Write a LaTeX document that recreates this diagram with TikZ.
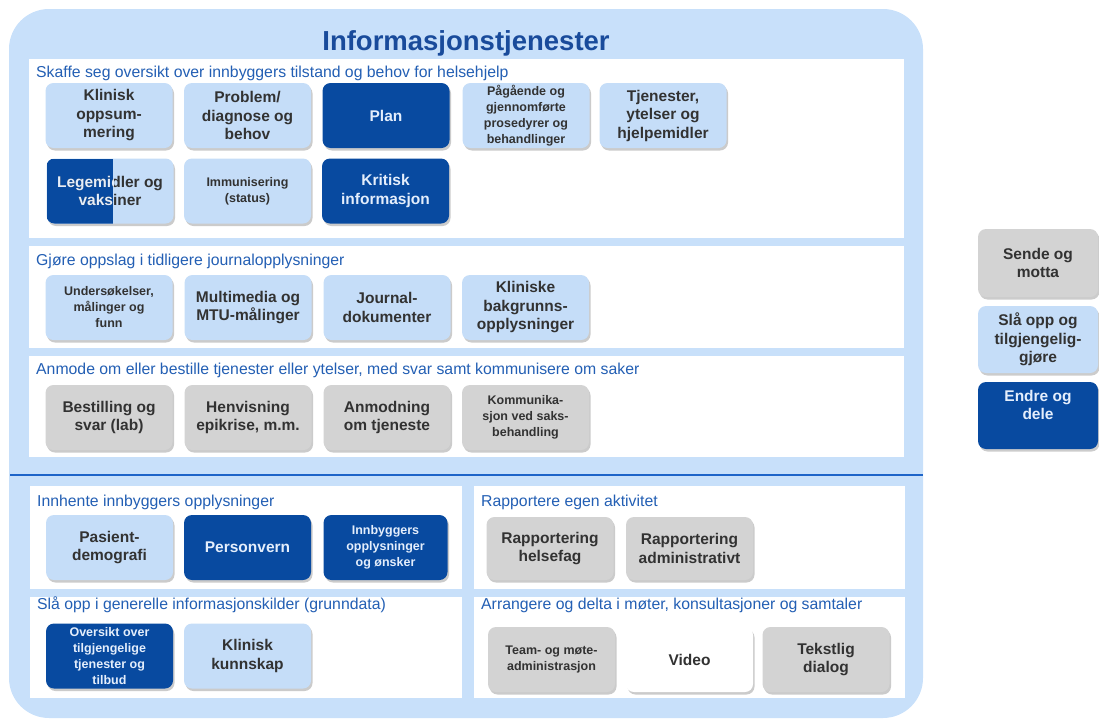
\documentclass[tikz,border=0pt]{standalone}
\usepackage{fontspec}
\setmainfont{Liberation Sans}
\usetikzlibrary{shadows}
\definecolor{outerblue}{RGB}{200,224,250}
\definecolor{lightbox}{RGB}{197,221,248}
\definecolor{darkbox}{RGB}{8,74,160}
\definecolor{graybox}{RGB}{211,211,211}
\definecolor{headcol}{RGB}{35,95,180}
\definecolor{titlecol}{RGB}{25,75,155}
\definecolor{boxtext}{RGB}{50,50,50}
\definecolor{darktext}{RGB}{228,238,252}
\definecolor{sepcol}{RGB}{30,100,200}
\newcommand\bxfont{\fontsize{15.5}{18.5}\selectfont\bfseries}
\newcommand\bxsmall{\fontsize{12.5}{16}\selectfont\bfseries}
\tikzset{
  txtonly/.style={rectangle, minimum width=127pt, minimum height=65pt,
    inner sep=1pt, align=center, font=\bxfont},
  box/.style={txtonly, rounded corners=8pt,
    drop shadow={shadow xshift=1.5pt, shadow yshift=-2.5pt, fill=black!40, opacity=0.5}},
  lb/.style={box, fill=lightbox, text=boxtext},
  db/.style={box, fill=darkbox, text=darktext},
  gb/.style={box, fill=graybox, text=boxtext},
  wb/.style={box, fill=white, text=boxtext},
  sm/.style={font=\bxsmall},
  panel/.style={fill=white},
  heading/.style={anchor=base west, inner sep=0pt, text=headcol, font=\fontsize{15.8}{18}\selectfont},
}
\begin{document}
\begin{tikzpicture}[x=1pt,y=-1pt]
\useasboundingbox (0,0) rectangle (1099,720);
% outer frame
\fill[outerblue, rounded corners=40pt] (9,9) rectangle (923,718);
% panels
\fill[panel] (29,59) rectangle (904,238);
\fill[panel] (29,246) rectangle (904,348);
\fill[panel] (29,356) rectangle (904,457);
\fill[panel] (30,486) rectangle (462,589);
\fill[panel] (30,597) rectangle (462,698);
\fill[panel] (474,486) rectangle (905,589);
\fill[panel] (474,597) rectangle (905,698);
% separator
\coordinate (sepL) at (10,475);
\coordinate (sepR) at (923,475);
\draw[sepcol, line width=2pt] (sepL) -- (sepR);
% title
\node[anchor=base, inner sep=0pt, text=titlecol, font=\fontsize{27.5}{32}\selectfont\bfseries] (title) at (466,50) {Informasjonstjenester};
% headings
\node[heading] (h1) at (36,77) {Skaffe seg oversikt over innbyggers tilstand og behov for helsehjelp};
\node[heading] (h2) at (36,265) {Gjøre oppslag i tidligere journalopplysninger};
\node[heading] (h3) at (36,374) {Anmode om eller bestille tjenester eller ytelser, med svar samt kommunisere om saker};
\node[heading] (h4) at (37,506) {Innhente innbyggers opplysninger};
\node[heading] (h5) at (37,609) {Slå opp i generelle informasjonskilder (grunndata)};
\node[heading] (h6) at (481,506) {Rapportere egen aktivitet};
\node[heading] (h7) at (481,609) {Arrangere og delta i møter, konsultasjoner og samtaler};
% panel 1 row 1
\node[lb] (klin) at (109,115.5) {Klinisk\\oppsum-\\mering};
\node[lb] (prob) at (247.5,115.5) {Problem/\\diagnose og\\behov};
\node[db] (plan) at (386,115.5) {Plan};
\node[lb, sm] (paag) at (526,115.5) {Pågående og\\gjennomførte\\prosedyrer og\\behandlinger};
\node[lb] (tjen) at (663,115.5) {Tjenester,\\ytelser og\\hjelpemidler};
% panel 1 row 2
\node[lb, path picture={\fill[darkbox, sharp corners] (path picture bounding box.north west) rectangle ([xshift=66pt]path picture bounding box.south west);}] (lege) at (110,191) {Legemidler og\\vaksiner};
\begin{scope}
\clip (40,150) rectangle (113,230);
\node[txtonly, text=darktext] (legeW) at (110,191) {Legemidler og\\vaksiner};
\end{scope}
\node[lb, sm] (immu) at (247.5,191) {Immunisering\\(status)};
\node[db] (krit) at (385.5,191) {Kritisk\\informasjon};
% panel 2
\node[lb, sm] (unde) at (109,307.5) {Undersøkelser,\\målinger og\\funn};
\node[lb] (mult) at (248,307.5) {Multimedia og\\MTU-målinger};
\node[lb] (jour) at (387,307.5) {Journal-\\dokumenter};
\node[lb] (klba) at (525.5,307.5) {Kliniske\\bakgrunns-\\opplysninger};
% panel 3
\node[gb] (best) at (109,417.5) {Bestilling og\\svar (lab)};
\node[gb] (henv) at (248,417.5) {Henvisning\\epikrise, m.m.};
\node[gb] (anmo) at (387,417.5) {Anmodning\\om tjeneste};
\node[gb, sm] (komm) at (525.5,417.5) {Kommunika-\\sjon ved saks-\\behandling};
% panel 4
\node[lb] (pasi) at (109.5,547.5) {Pasient-\\demografi};
\node[db] (pers) at (247.5,547.5) {Personvern};
\node[db, sm, minimum width=124pt] (innb) at (385.5,547.5) {Innbyggers\\opplysninger\\og ønsker};
% panel 5
\node[db, sm] (over) at (109.5,656) {Oversikt over\\tilgjengelige\\tjenester og\\tilbud};
\node[lb] (kunn) at (247.5,656) {Klinisk\\kunnskap};
% panel 6
\node[gb, minimum height=63pt] (rhel) at (550,548.5) {Rapportering\\helsefag};
\node[gb, minimum height=63pt] (radm) at (689.5,548.5) {Rapportering\\administrativt};
% panel 7
\node[gb, sm] (team) at (551.5,659.5) {Team- og møte-\\administrasjon};
\node[wb] (vide) at (689.5,659.5) {Video};
\node[gb] (teks) at (826,659.5) {Tekstlig\\dialog};
% legend
\node[gb, minimum width=120pt, minimum height=68pt] (lsen) at (1038,263) {Sende og\\motta};
\node[lb, minimum width=120pt, minimum height=67pt] (lsla) at (1038,339.5) {Slå opp og\\tilgjengelig-\\gjøre};
\node[db, minimum width=120pt, minimum height=67pt] (lend) at (1038,415.5) {};
\node[inner sep=0pt, align=center, font=\bxfont, text=darktext] (lendt) at (1038,405) {Endre og\\dele};
\end{tikzpicture}
\end{document}
